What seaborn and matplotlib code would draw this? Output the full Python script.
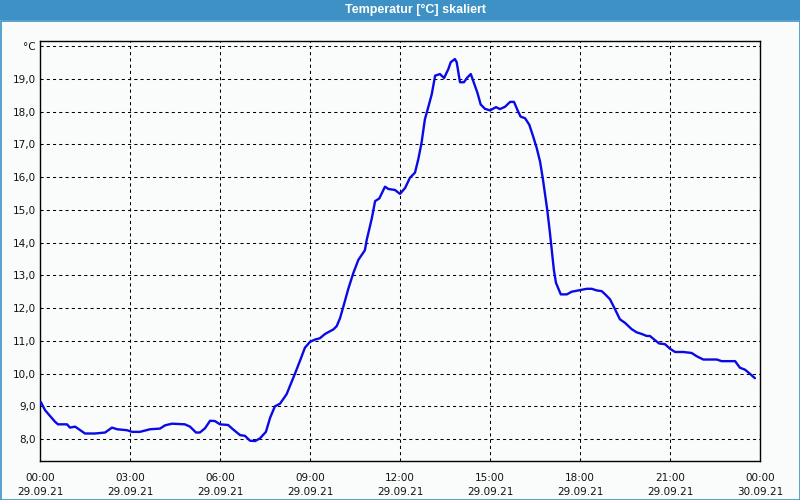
import matplotlib
matplotlib.use("Agg")
import matplotlib.pyplot as plt
from matplotlib.patches import Rectangle
import seaborn as sns
import pandas as pd
import numpy as np

# ---- data (hours since 29.09.21 00:00, temperature in °C) ----
hours = [0.03, 0.17, 0.5, 0.6, 0.9, 1.0, 1.17, 1.5, 1.83, 2.17, 2.4, 2.57, 2.9, 3.07, 3.33,
         3.67, 4.0, 4.17, 4.4, 4.83, 5.0, 5.2, 5.33, 5.5, 5.67, 5.83, 6.0, 6.27, 6.43, 6.67,
         6.83, 7.0, 7.17, 7.33, 7.53, 7.67, 7.83, 8.0, 8.22, 8.5, 8.67, 8.83, 9.0, 9.17, 9.33,
         9.5, 9.78, 9.89, 10.0, 10.11, 10.28, 10.44, 10.61, 10.83, 10.89, 11.06, 11.17, 11.31,
         11.5, 11.61, 11.83, 12.0, 12.17, 12.33, 12.5, 12.61, 12.72, 12.83, 12.94, 13.06, 13.17,
         13.33, 13.47, 13.61, 13.69, 13.83, 13.89, 14.0, 14.13, 14.24, 14.36, 14.44, 14.58,
         14.69, 14.83, 15.0, 15.2, 15.33, 15.5, 15.67, 15.8, 15.94, 16.02, 16.17, 16.31, 16.44,
         16.56, 16.67, 16.76, 16.83, 16.91, 17.0, 17.06, 17.13, 17.2, 17.36, 17.56, 17.72,
         17.94, 18.22, 18.39, 18.56, 18.72, 18.83, 19.0, 19.17, 19.33, 19.5, 19.72, 19.89,
         20.06, 20.22, 20.33, 20.5, 20.64, 20.83, 21.0, 21.17, 21.44, 21.72, 21.89, 22.11,
         22.56, 22.72, 23.17, 23.33, 23.5, 23.67, 23.83]
temps = [9.13, 8.88, 8.53, 8.45, 8.45, 8.35, 8.38, 8.17, 8.17, 8.2, 8.35, 8.3, 8.27, 8.22, 8.22,
         8.3, 8.32, 8.42, 8.47, 8.45, 8.38, 8.2, 8.2, 8.33, 8.56, 8.55, 8.45, 8.43, 8.3, 8.12,
         8.1, 7.95, 7.94, 8.02, 8.22, 8.65, 9.0, 9.08, 9.37, 10.0, 10.4, 10.79, 10.97, 11.04, 11.08,
         11.21, 11.35, 11.45, 11.69, 12.04, 12.6, 13.06, 13.47, 13.77, 14.08, 14.74, 15.27, 15.35,
         15.71, 15.64, 15.61, 15.49, 15.67, 15.98, 16.14, 16.55, 17.06, 17.77, 18.13, 18.54, 19.1,
         19.15, 19.03, 19.3, 19.51, 19.61, 19.51, 18.9, 18.9, 19.04, 19.15, 18.94, 18.58,
         18.22, 18.09, 18.04, 18.14, 18.08, 18.15, 18.3, 18.3, 18.0, 17.85, 17.8, 17.6, 17.24,
         16.88, 16.47, 15.96, 15.5, 14.99, 14.28, 13.77, 13.16, 12.77, 12.42, 12.42, 12.5,
         12.54, 12.59, 12.59, 12.54, 12.52, 12.43, 12.27, 11.96, 11.66, 11.55, 11.36, 11.26,
         11.21, 11.15, 11.15, 11.02, 10.92, 10.9, 10.76, 10.66, 10.66, 10.63, 10.53, 10.43,
         10.43, 10.38, 10.38, 10.18, 10.12, 9.99, 9.86]

x_tick_hours = [0, 3, 6, 9, 12, 15, 18, 21, 24]
x_tick_labels = ["00:00\n29.09.21", "03:00\n29.09.21", "06:00\n29.09.21", "09:00\n29.09.21",
                 "12:00\n29.09.21", "15:00\n29.09.21", "18:00\n29.09.21", "21:00\n29.09.21",
                 "00:00\n30.09.21"]
y_ticks = [8, 9, 10, 11, 12, 13, 14, 15, 16, 17, 18, 19, 20]
y_tick_labels = ["8,0", "9,0", "10,0", "11,0", "12,0", "13,0", "14,0", "15,0", "16,0",
                 "17,0", "18,0", "19,0", "°C"]
title = "Temperatur [°C] skaliert"

sns.set_style("white")
plt.rcParams['font.family'] = ['DejaVu Sans']

bg = "#fafbfb"
blue_bar = "#3d91c5"

fig = plt.figure(figsize=(8, 5), dpi=100, facecolor=bg)
ax = fig.add_axes([40 / 800, 39 / 500, 720 / 800, 420 / 500])
ax.set_facecolor(bg)

df = pd.DataFrame({"h": hours, "t": temps})
sns.lineplot(data=df, x="h", y="t", ax=ax, color="#0a0ae6", linewidth=1.7, zorder=3)

ax.set_xlim(0, 24)
ax.set_ylim(7.33, 20.16)

ax.set_xticks(x_tick_hours)
ax.set_xticklabels(x_tick_labels, fontsize=7.5, linespacing=1.55)
ax.set_xticks(np.arange(0, 25, 1), minor=True)
ax.set_yticks(y_ticks)
ax.set_yticklabels(y_tick_labels, fontsize=7.5)
ax.tick_params(axis="x", which="both", direction="out", length=3.5, width=0.8,
               color="black", pad=5, labelcolor="#111111")
ax.tick_params(axis="y", which="both", length=0, pad=3, labelcolor="#111111")

ax.grid(True, axis="both", which="major", color="black", linestyle=(0, (3, 3)),
        linewidth=0.75, zorder=1)
ax.set_xlabel("")
ax.set_ylabel("")

for s in ax.spines.values():
    s.set_visible(True)
    s.set_color("black")
    s.set_linewidth(1.0)

# title bar and window frame
fig.patches.append(Rectangle((0, 1 - 20 / 500), 1, 20 / 500, transform=fig.transFigure,
                             facecolor=blue_bar, edgecolor="none", zorder=0))
fig.patches.append(Rectangle((0.5 / 800, 0.5 / 500), 799 / 800, 479 / 500,
                             transform=fig.transFigure, facecolor="none",
                             edgecolor=blue_bar, linewidth=1.2, zorder=0))
fig.text(415 / 800, 1 - 10 / 500, title, color="white", fontsize=9, fontweight="bold",
         ha="center", va="center", family=["Liberation Sans", "DejaVu Sans"])

fig.savefig("out.png", dpi=100, facecolor=bg)
